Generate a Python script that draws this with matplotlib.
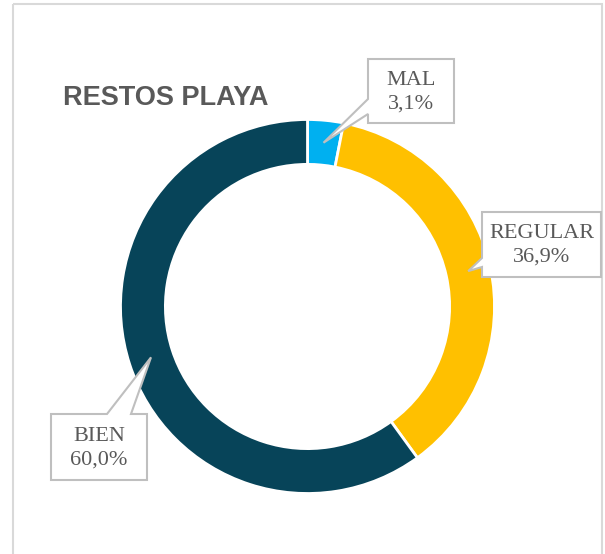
import math

import matplotlib
matplotlib.use('Agg')
import matplotlib.pyplot as plt
from matplotlib.patches import Polygon, Rectangle

# datos
categorias = ["MAL", "REGULAR", "BIEN"]
valores = [3.1, 36.9, 60.0]
colores = ["#00B0F0", "#FFC000", "#074459"]
titulo = "RESTOS PLAYA"

W, H = 605, 554
fig = plt.figure(figsize=(W / 100, H / 100), dpi=100)
fig.patch.set_facecolor("white")

# capa en pixeles (origen arriba a la izquierda)
over = fig.add_axes([0, 0, 1, 1], zorder=2)
over.set_xlim(0, W)
over.set_ylim(H, 0)
over.axis("off")
over.patch.set_alpha(0)

# marco del grafico
over.add_patch(Rectangle((13, 4), 589, 600, fill=False, edgecolor="#D9D9D9", lw=1.5))

# donut
cx, cy, R = 307.5, 306.5, 187
ax = fig.add_axes([(cx - R) / W, (H - cy - R) / H, 2 * R / W, 2 * R / H], zorder=1)
ancho = 0.24
ax.pie(valores, colors=colores, startangle=90, counterclock=False, radius=1,
       wedgeprops=dict(width=ancho, edgecolor="white", linewidth=2))
ax.set_xlim(-1, 1)
ax.set_ylim(-1, 1)
ax.set_aspect("auto")
ax.axis("off")

over.text(63, 98, titulo, ha="left", va="center", fontsize=19.5, fontweight="bold",
          color="#595959", family="Liberation Sans")

# cajas de etiqueta: (x0, y0, x1, y1), lado de la punta, base de la punta
cajas = {
    "MAL": ((368, 59, 454, 123), "left", (99, 114)),
    "REGULAR": ((482, 212, 601, 277), "left", (258, 267)),
    "BIEN": ((51, 414, 147, 480), "top", (107, 131)),
}

total = sum(valores)
acum = 0
for nombre, v in zip(categorias, valores):
    medio = acum + v / 2
    acum += v
    ang = math.radians(90 - medio / total * 360)
    rr = 1 - ancho / 2
    px, py = ax.transData.transform((rr * math.cos(ang), rr * math.sin(ang)))
    tx, ty = over.transData.inverted().transform((px, py))

    (x0, y0, x1, y1), lado, (b0, b1) = cajas[nombre]
    if lado == "left":
        pts = [(x0, y0), (x1, y0), (x1, y1), (x0, y1), (x0, b1), (tx, ty), (x0, b0)]
    else:
        pts = [(x0, y0), (b0, y0), (tx, ty), (b1, y0), (x1, y0), (x1, y1), (x0, y1)]
    over.add_patch(Polygon(pts, closed=True, facecolor="white", edgecolor="#BFBFBF", lw=1.5))
    etiqueta = f"{nombre}\n{v:.1f}%".replace(".", ",")
    over.text((x0 + x1) / 2, (y0 + y1) / 2 + 1, etiqueta, ha="center", va="center",
              fontsize=16, color="#595959", family="Liberation Serif", linespacing=1.3)

fig.savefig("out.png", dpi=100)
plt.close(fig)
